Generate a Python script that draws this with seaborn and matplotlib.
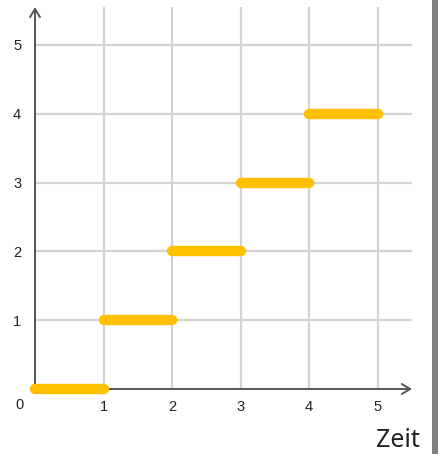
import numpy as np
import pandas as pd
import matplotlib
matplotlib.use("Agg")
import matplotlib.pyplot as plt
import seaborn as sns
from matplotlib.patches import Rectangle

# Data: step function segments
seg_start = [0, 1, 2, 3, 4]
seg_end = [1, 2, 3, 4, 5]
seg_value = [0, 1, 2, 3, 4]
x_ticks = [1, 2, 3, 4, 5]
y_ticks = [1, 2, 3, 4, 5]
x_label = "Zeit"

rows = []
for i, (a, b, v) in enumerate(zip(seg_start, seg_end, seg_value)):
    rows.append({"x": a, "y": v, "seg": i})
    rows.append({"x": b, "y": v, "seg": i})
df = pd.DataFrame(rows)

sns.set_style("white")
plt.rcParams['font.family'] = ['Liberation Sans', 'DejaVu Sans']

W, H = 438, 454
fig = plt.figure(figsize=(W / 100, H / 100), dpi=100)
ax_left, ax_right, ax_top, ax_bottom = 35, 412, 7, 389
ax = fig.add_axes([ax_left / W, (H - ax_bottom) / H, (ax_right - ax_left) / W, (ax_bottom - ax_top) / H])

ax.set_xlim(0, 5.5)
ax.set_ylim(0, 5.55)

sns.lineplot(data=df, x="x", y="y", units="seg", estimator=None, color="#FFC000",
             linewidth=7.5, solid_capstyle="round", ax=ax, zorder=5, clip_on=False)

ax.set_xticks(x_ticks)
ax.set_yticks(y_ticks)
ax.grid(True, color="#d3d3d3", linewidth=1.6, zorder=0)
ax.set_axisbelow(True)
ax.tick_params(axis="both", length=0, labelsize=10.5, labelcolor="#222222")
ax.tick_params(axis="x", pad=8)
ax.tick_params(axis="y", pad=10)
ax.set_xlabel("")
ax.set_ylabel("")
for s in ["top", "right", "left", "bottom"]:
    ax.spines[s].set_visible(False)

# axis arrows (open chevron heads)
astyle = "->,head_length=0.5,head_width=0.3"
ax.annotate("", xy=(1.0, 0), xytext=(0, 0), xycoords="axes fraction",
            arrowprops=dict(arrowstyle=astyle, color="#555555", lw=1.4, shrinkA=0, shrinkB=0,
                            mutation_scale=12), zorder=3)
ax.annotate("", xy=(0, 1.0), xytext=(0, 0), xycoords="axes fraction",
            arrowprops=dict(arrowstyle=astyle, color="#555555", lw=1.4, shrinkA=0, shrinkB=0,
                            mutation_scale=12), zorder=3)

fig.text(19 / W, 1 - 405 / H, "0", ha="center", va="center", fontsize=10.5, color="#222222")
fig.text(397.5 / W, 1 - 447 / H, x_label, ha="center", va="baseline", fontsize=18,
         color="#222222", family=["Noto Sans", "DejaVu Sans"])

fig.patches.append(Rectangle((432 / W, 0), 6 / W, 1, transform=fig.transFigure,
                             facecolor="#808080", edgecolor="none"))

fig.savefig("out.png", dpi=100)
